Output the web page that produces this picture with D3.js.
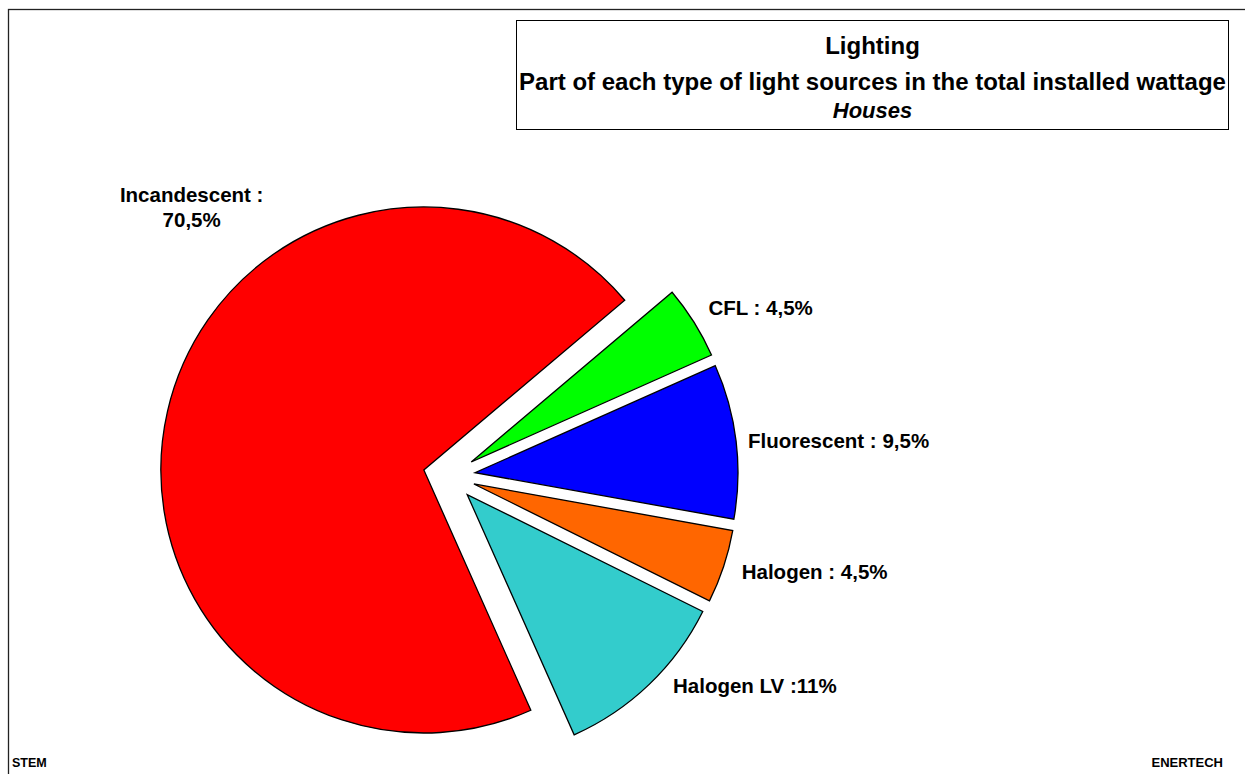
<!DOCTYPE html>
<html>
<head>
<meta charset="utf-8">
<script src="https://cdn.jsdelivr.net/npm/d3@7/dist/d3.min.js"></script>
<style>
  html, body { margin: 0; padding: 0; background: #fff; }
  svg { display: block; }
  text { font-family: "Liberation Sans", Arial, sans-serif; font-weight: bold; fill: #000; }
</style>
</head>
<body>
<svg id="chart" width="1245" height="774"></svg>
<script>
// ---- data ----
const categories = ["Incandescent", "CFL", "Fluorescent", "Halogen", "Halogen LV"];
const values = [70.5, 4.5, 9.5, 4.5, 11];
const labelLines = [["Incandescent :", "70,5%"], ["CFL : 4,5%"], ["Fluorescent : 9,5%"], ["Halogen : 4,5%"], ["Halogen LV :11%"]];
const colors = ["#FF0000", "#00FF00", "#0000FF", "#FF6600", "#33CCCC"];
const titleLines = ["Lighting", "Part of each type of light sources in the total installed wattage", "Houses"];
const footLeft = "STEM";
const footRight = "ENERTECH";

// ---- layout ----
const W = 1245, H = 774;
const svg = d3.select("#chart");
const cx = 449.2, cy = 475.8, R = 263, explode = 26;
const rad = Math.PI / 180;
const startA = 156 * rad;
// small best-fit nudges of the data labels (layout only)
const labelNudge = [[0, -5], [0, -5], [-5, 2], [2, 0], [12, -11]];

// outer frame (left and top edges visible)
svg.append("rect").attr("x", 8.5).attr("y", 9.5).attr("width", W + 20).attr("height", H + 20)
  .attr("fill", "none").attr("stroke", "#222").attr("stroke-width", 1.3);

// title box
const tb = { x: 516.5, y: 20.5, w: 712, h: 109 };
svg.append("rect").attr("x", tb.x).attr("y", tb.y).attr("width", tb.w).attr("height", tb.h)
  .attr("fill", "#fff").attr("stroke", "#000").attr("stroke-width", 1);
const tcx = tb.x + tb.w / 2;
svg.append("text").attr("x", tcx).attr("y", 54).attr("text-anchor", "middle")
  .style("font-size", "24px").text(titleLines[0]);
svg.append("text").attr("x", tcx).attr("y", 90).attr("text-anchor", "middle")
  .style("font-size", "24px").text(titleLines[1]);
svg.append("text").attr("x", tcx).attr("y", 118).attr("text-anchor", "middle")
  .style("font-size", "22px").style("font-style", "italic").text(titleLines[2]);

// pie
const pie = d3.pie().sort(null).value(d => d).startAngle(startA).endAngle(startA + 2 * Math.PI);
const arcs = pie(values);
const arc = d3.arc().innerRadius(0).outerRadius(R);
const g = svg.append("g").attr("transform", `translate(${cx},${cy})`);
const mid = d => (d.startAngle + d.endAngle) / 2;

g.selectAll("path.slice").data(arcs).join("path")
  .attr("class", "slice")
  .attr("transform", d => `translate(${explode * Math.sin(mid(d))},${-explode * Math.cos(mid(d))})`)
  .attr("d", arc)
  .attr("fill", (d, i) => colors[i])
  .attr("stroke", "#000")
  .attr("stroke-width", 1.3)
  .attr("stroke-linejoin", "miter");

// labels
const labelGap = 17;
arcs.forEach((d, i) => {
  const m = mid(d);
  const [nx, ny] = labelNudge[i];
  if (i === 0) {
    // best-fit placement of the large slice label, up-left of the pie
    const a = 318 * rad, dist = 347;
    const lx = explode * Math.sin(m) + dist * Math.sin(a) + nx;
    const ly = -explode * Math.cos(m) - dist * Math.cos(a) + ny;
    const t = g.append("text").attr("text-anchor", "middle").style("font-size", "20.5px");
    labelLines[i].forEach((s, k) => t.append("tspan").attr("x", lx).attr("y", ly - 5 + k * 25).text(s));
  } else {
    const dist = explode + R + labelGap;
    const lx = dist * Math.sin(m) + nx, ly = -dist * Math.cos(m) + ny;
    g.append("text").attr("x", lx).attr("y", ly).attr("dy", "0.35em")
      .attr("text-anchor", "start").style("font-size", "20.5px").text(labelLines[i][0]);
  }
});

// footers
svg.append("text").attr("x", 12).attr("y", 767).style("font-size", "12.5px").text(footLeft);
svg.append("text").attr("x", 1223).attr("y", 767).attr("text-anchor", "end").style("font-size", "13px").text(footRight);
</script>
</body>
</html>
